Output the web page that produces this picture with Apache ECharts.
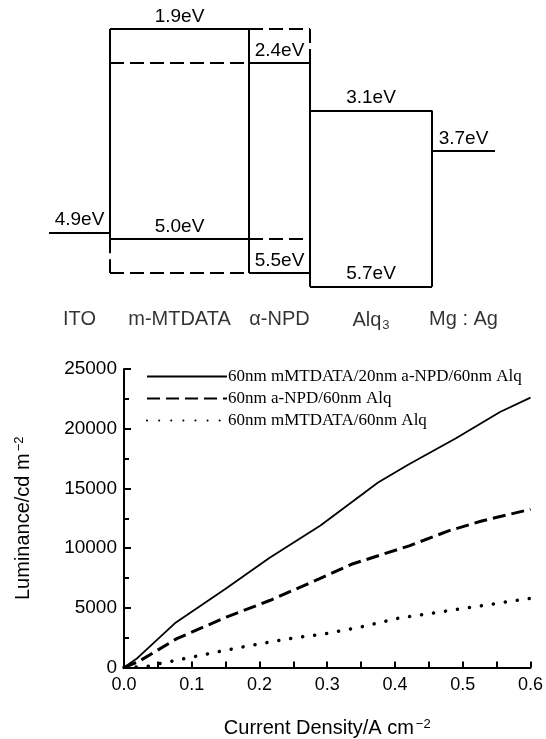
<!DOCTYPE html>
<html>
<head>
<meta charset="utf-8">
<script src="https://cdn.jsdelivr.net/npm/echarts@6/dist/echarts.min.js"></script>
<style>
  html, body { margin: 0; padding: 0; background: #fff; }
  #chart { width: 546px; height: 739px; }
</style>
</head>
<body>
<div id="chart"></div>
<script>
// energy level diagram (eV)
const layers = ['ITO', 'm-MTDATA', 'α-NPD', 'Alq{sub|3}', 'Mg : Ag'];
const layerWidth = [61, 139, 61, 122, 63];   // relative widths of the columns in the schematic
const lumo = [null, 1.9, 2.4, 3.1, null];
const homo = [null, 5.0, 5.5, 5.7, null];
const workFn = [4.9, null, null, null, 3.7];

// luminance vs current density
const seriesNames = ['60nm mMTDATA/20nm a-NPD/60nm Alq', '60nm a-NPD/60nm Alq', '60nm mMTDATA/60nm Alq'];
const jSolid = [0, 0.02, 0.075, 0.15, 0.215, 0.29, 0.375, 0.42, 0.49, 0.555, 0.6];
const lumSolid = [0, 800, 3700, 6600, 9200, 11900, 15500, 17000, 19200, 21400, 22600];
const jDash = [0, 0.02, 0.078, 0.151, 0.215, 0.288, 0.337, 0.421, 0.479, 0.528, 0.6];
const lumDash = [0, 450, 2420, 4220, 5610, 7420, 8670, 10190, 11440, 12270, 13250];
const jDot = [0, 0.035, 0.053, 0.078, 0.126, 0.175, 0.244, 0.3, 0.35, 0.406, 0.504, 0.6];
const lumDot = [0, 100, 330, 610, 1170, 1720, 2420, 2850, 3400, 4140, 4970, 5800];

const eMin = 1.5, eMax = 6.0;

const edge = [0];
layerWidth.forEach(w => edge.push(edge[edge.length - 1] + w));

const ev = v => v.toFixed(1) + 'eV';
function seg(x1, y1, x2, y2, dashed, text) {
    const d = {
        coords: [[x1, y1], [x2, y2]],
        lineStyle: { type: dashed ? [14, 6] : 'solid' }
    };
    if (text) {
        d.label = { show: true, formatter: text };
    }
    return d;
}

const segs = [
    // electrodes
    seg(edge[0], workFn[0], edge[1], workFn[0], false, ev(workFn[0])),
    seg(edge[4], workFn[4], edge[5], workFn[4], false, ev(workFn[4])),
    // m-MTDATA, dashed where it runs over alpha-NPD
    seg(edge[1], lumo[1], edge[2], lumo[1], false, ev(lumo[1])),
    seg(edge[2], lumo[1], edge[3], lumo[1], true),
    seg(edge[1], homo[1], edge[2], homo[1], false, ev(homo[1])),
    seg(edge[2], homo[1], edge[3], homo[1], true),
    // alpha-NPD, dashed where it runs over m-MTDATA
    seg(edge[2], lumo[2], edge[3], lumo[2], false, ev(lumo[2])),
    seg(edge[1], lumo[2], edge[2], lumo[2], true),
    seg(edge[2], homo[2], edge[3], homo[2], false, ev(homo[2])),
    seg(edge[1], homo[2], edge[2], homo[2], true),
    // Alq3
    seg(edge[3], lumo[3], edge[4], lumo[3], false, ev(lumo[3])),
    seg(edge[3], homo[3], edge[4], homo[3], false, ev(homo[3])),
    // vertical sides
    seg(edge[1], lumo[1], edge[1], homo[1], false),
    seg(edge[1], homo[1], edge[1], homo[2], true),
    seg(edge[2], lumo[1], edge[2], homo[2], false),
    seg(edge[3], lumo[1], edge[3], lumo[2], true),
    seg(edge[3], lumo[2], edge[3], homo[3], false),
    seg(edge[4], lumo[3], edge[4], homo[3], false)
];

const layerLabels = layers.map((n, i) => ({ name: n, value: [(edge[i] + edge[i + 1]) / 2, eMax] }));

const sans = 'Liberation Sans';
const zip = (xs, ys) => xs.map((x, i) => [x, ys[i]]);

const chart = echarts.init(document.getElementById('chart'));
chart.setOption({
    animation: false,
    backgroundColor: '#fff',
    grid: [
        { left: 49, width: 446, top: 2, height: 305 },
        { left: 124, right: 14, top: 369, bottom: 69 }
    ],
    legend: {
        data: seriesNames,
        orient: 'vertical',
        left: 146,
        top: 368,
        padding: 0,
        itemWidth: 80,
        itemHeight: 12,
        itemGap: 5,
        itemStyle: { opacity: 0 },
        textStyle: { fontFamily: 'Liberation Serif', fontSize: 17, color: '#000', padding: [0, 0, 0, -4] }
    },
    xAxis: [
        { gridIndex: 0, type: 'value', min: 0, max: edge[5], show: false },
        {
            gridIndex: 1, type: 'value', min: 0, max: 0.6, interval: 0.1,
            name: 'Current Density/A cm{sup|−2}',
            nameLocation: 'middle', nameGap: 50,
            nameTextStyle: {
                fontFamily: sans, fontSize: 20, color: '#000',
                rich: { sup: { fontFamily: sans, fontSize: 13, verticalAlign: 'top', padding: [0, 0, 8, 2] } }
            },
            axisLine: { lineStyle: { color: '#000', width: 2 } },
            axisTick: { inside: true, length: 6, lineStyle: { color: '#000', width: 2 } },
            minorTick: { show: true, splitNumber: 2, length: 6, lineStyle: { color: '#000', width: 2 } },
            axisLabel: { fontFamily: sans, fontSize: 18, color: '#000', margin: 9, formatter: v => v.toFixed(1) },
            splitLine: { show: false }
        }
    ],
    yAxis: [
        { gridIndex: 0, type: 'value', inverse: true, min: eMin, max: eMax, show: false },
        {
            gridIndex: 1, type: 'value', min: 0, max: 25000, interval: 5000,
            name: 'Luminance/cd m{sup|−2}',
            nameLocation: 'middle', nameGap: 90,
            nameTextStyle: {
                fontFamily: sans, fontSize: 20, color: '#000',
                rich: { sup: { fontFamily: sans, fontSize: 13, verticalAlign: 'top', padding: [0, 0, 8, 2] } }
            },
            axisLine: { show: true, lineStyle: { color: '#000', width: 2 } },
            axisTick: { inside: true, length: 7, lineStyle: { color: '#000', width: 2 } },
            minorTick: { show: true, splitNumber: 2, length: 5, lineStyle: { color: '#000', width: 2 } },
            axisLabel: { fontFamily: sans, fontSize: 19, color: '#000', margin: 7, formatter: v => String(v) },
            splitLine: { show: false }
        }
    ],
    series: [
        {
            type: 'lines',
            coordinateSystem: 'cartesian2d',
            xAxisIndex: 0, yAxisIndex: 0,
            polyline: false,
            silent: true,
            lineStyle: { color: '#000', width: 2, opacity: 1, curveness: 0 },
            label: {
                position: 'insideMiddleTop', distance: 3,
                fontFamily: sans, fontSize: 19, color: '#000'
            },
            data: segs
        },
        {
            type: 'scatter',
            xAxisIndex: 0, yAxisIndex: 0,
            symbolSize: 0,
            silent: true,
            label: {
                show: true, position: 'bottom', distance: 2,
                formatter: p => p.name,
                fontFamily: sans, fontSize: 20, color: '#000',
                rich: { sub: { fontFamily: sans, fontSize: 13, verticalAlign: 'bottom', padding: [10, 0, 0, 1] } }
            },
            data: layerLabels
        },
        {
            name: seriesNames[0], type: 'line', xAxisIndex: 1, yAxisIndex: 1,
            showSymbol: false, symbol: 'none',
            lineStyle: { color: '#000', width: 1.8 },
            itemStyle: { color: '#000' },
            data: zip(jSolid, lumSolid)
        },
        {
            name: seriesNames[1], type: 'line', xAxisIndex: 1, yAxisIndex: 1,
            showSymbol: false, symbol: 'none',
            lineStyle: { color: '#000', width: 3, type: [13, 6] },
            itemStyle: { color: '#000' },
            data: zip(jDash, lumDash)
        },
        {
            name: seriesNames[2], type: 'line', xAxisIndex: 1, yAxisIndex: 1,
            showSymbol: false, symbol: 'none',
            lineStyle: { color: '#000', width: 3.5, type: [0.1, 12], cap: 'round' },
            itemStyle: { color: '#000' },
            data: zip(jDot, lumDot)
        }
    ]
});
</script>
</body>
</html>
